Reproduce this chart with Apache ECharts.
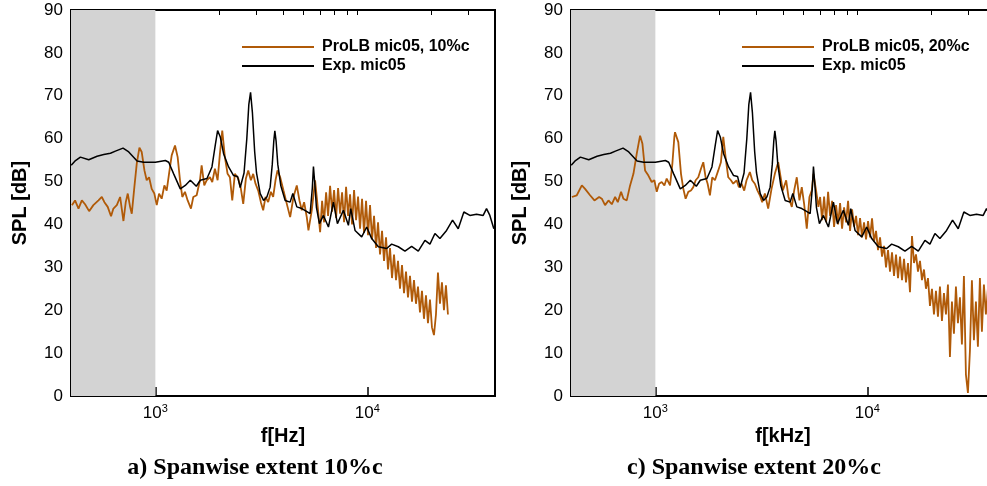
<!DOCTYPE html>
<html><head><meta charset="utf-8">
<script src="https://cdn.jsdelivr.net/npm/echarts@6/dist/echarts.min.js"></script>
<style>html,body{margin:0;padding:0;background:#fff;overflow:hidden;width:987px;height:486px}#c{width:1000px;height:486px}</style>
</head><body><div id="c"></div>
<script>
// ---- data (Hz, dB) ----
const expFreq = [401,420,443,485,531,571,614,648,704,749,820,881,1000,1115,1156,1220,1311,1384,1462,1560,1629,1751,1849,1917,1966,2024,2098,2215,2339,2442,2514,2620,2700,2760,2812,2870,2940,3000,3123,3238,3357,3479,3560,3620,3661,3710,3780,3907,4096,4323,4450,4648,4907,5142,5370,5500,5568,5650,5750,5942,6204,6553,6917,7224,7709,8138,8347,8747,9404,9929,10481,11268,12334,13020,13996,15044,16175,17386,18691,19731,20834,21990,23636,25227,26827,28524,30447,32729,35184,36481,37826,39502];
const expSpl  = [53.8,54.9,55.7,55.1,55.9,56.3,56.6,57.1,57.8,56.9,54.8,54.5,54.5,54.9,54.5,51.8,48.3,49.1,50.3,48.9,50.3,50.7,53.4,58.5,61.9,60.4,56.5,53.4,51.4,51.2,48.6,52.0,60.0,68.0,70.8,66.0,57.0,52.0,47.2,45.6,46.4,48.7,54.0,59.5,61.8,59.5,54.0,49.0,45.6,45.2,47.2,44.1,43.7,43.1,42.5,48.5,53.5,49.5,44.0,40.2,42.1,39.4,45.2,40.2,43.3,39.8,43.7,38.6,37.1,39.4,36.7,34.8,34.4,35.4,34.8,33.8,34.9,33.8,36.3,35.4,37.9,36.7,38.6,41.0,39.0,42.9,42.1,42.4,42.1,43.7,42.1,39.0];

// ProLB 10%c : low/mid range, then dense high-frequency band
const les10FreqLow = [404,418,434,450,466,487,510,539,559,575,596,618,634,658,682,694,707,725,741,760,774,796,817,841,862,888,910,934,961,989,1015,1041,1071,1103,1131,1160,1194,1238,1274,1307,1340,1379,1420,1472,1510,1566,1623,1653,1701,1745,1809,1855,1910,1966,2016,2068,2128,2191,2247,2305,2372,2460,2532,2597,2673,2742,2822,2894,2968,3056,3145,3225,3308,3405,3505,3595,3687,3768,3879,4021,4169,4323,4482,4646,4782,4905,5031,5179,5273,5467,5668,5876];
const les10SplLow  = [44.5,45.6,43.7,45.6,44.7,43.1,44.5,45.6,46.4,45.2,44.1,41.9,43.7,44.5,46.4,43.7,40.8,45.2,47.2,44.1,42.5,48.7,54.2,57.9,56.9,52.6,50.3,51.0,48.3,47.2,44.5,47.2,46.0,49.1,47.9,51.8,56.1,58.4,55.7,50.3,46.4,47.6,45.6,43.7,46.4,46.8,50.3,53.8,49.1,50.3,51.0,49.9,53.0,50.3,56.5,61.9,55.7,51.8,51.0,45.6,51.8,50.7,48.3,44.8,50.7,52.6,50.3,51.8,49.5,47.9,45.2,43.3,46.4,45.2,47.6,46.4,50.3,52.6,51.0,47.9,44.8,41.7,46.4,49.1,45.6,43.3,45.2,41.7,38.6,43.3,50.3,42.5];
const les10FreqHigh = [5986,6117,6251,6388,6528,6671,6818,6967,7120,7276,7436,7599,7765,7936,8110,8288,8469,8655,8845,9039,9237,9439,9646,9858,10074,10295,10521,10752,10988,11229,11475,11727,11984,12247,12515,12790,13070,13357,13650,13949,14255,14568,14887,15214,15547,15888,16237,16593,16957,17329,17709,18097,18494,18900,19314,19738,20171,20613,21065,21527,21999,22482,22975,23479,23994];
const les10SplHigh  = [38.2,45.5,40.5,47.5,42.0,49.0,43.0,48.0,41.5,48.5,42.5,47.5,40.5,48.8,42.0,47.0,40.0,48.0,41.0,46.5,39.0,46.0,38.0,45.5,37.5,44.5,36.5,42.0,34.5,40.5,33.0,38.5,31.5,37.0,29.5,34.5,27.5,33.0,27.0,31.5,25.0,30.5,24.0,29.0,23.0,28.0,22.0,27.0,21.5,25.5,19.5,24.5,18.0,23.5,17.0,22.5,16.0,14.2,19.0,28.8,21.5,26.5,20.0,25.8,19.0];

// ProLB 20%c
const les20FreqLow = [404,426,450,466,492,516,543,559,579,601,623,646,665,689,707,733,760,788,817,847,869,894,927,961,989,1015,1041,1071,1103,1131,1173,1203,1229,1238,1283,1321,1355,1389,1430,1472,1510,1549,1594,1641,1683,1726,1764,1809,1855,1910,1980,2038,2091,2144,2207,2272,2330,2416,2477,2550,2625,2692,2791,2863,2947,3033,3111,3191,3285,3405,3531,3661,3796,3993,4140,4245,4402,4514,4646,4782,4905,5031,5179,5330,5467,5568,5731,5876];
const les20SplLow  = [46.4,46.8,49.1,48.3,46.8,45.6,46.4,46.0,44.5,45.6,44.7,46.4,45.2,47.6,46.0,45.6,49.1,51.8,56.5,60.7,58.8,52.6,51.4,49.9,50.3,47.6,49.5,49.9,49.1,50.7,49.1,54.2,60.4,61.5,59.2,51.8,48.3,46.0,47.6,47.9,48.7,50.3,51.0,53.0,54.5,51.0,49.5,46.8,51.0,50.3,52.6,54.5,60.4,55.7,51.0,50.3,49.5,50.3,48.7,49.5,47.9,50.3,52.2,50.3,49.5,47.9,46.8,45.2,47.2,43.7,48.3,51.8,54.5,47.9,50.3,46.4,44.1,47.9,51.0,45.6,48.7,44.8,39.0,46.4,47.9,51.8,47.9,44.1];
const les20FreqHigh = [5986,6117,6251,6388,6528,6671,6818,6967,7120,7276,7436,7599,7765,7936,8110,8288,8469,8655,8845,9039,9237,9439,9646,9858,10074,10295,10521,10752,10988,11229,11475,11727,11984,12247,12515,12790,13070,13357,13650,13949,14255,14568,14887,15214,15547,15888,16237,16593,16957,17329,17709,18097,18494,18900,19314,19738,20171,20613,21065,21527,21999,22482,22975,23479,23994,24520,25057,25606,26168,26742,27329,27928,28541,29167,29807,30461,31129,31812,32510,33223,33952,34697,35458,36236,37031,37843];
const les20SplHigh  = [46.4,41.0,46.5,40.5,47.6,42.0,45.5,39.4,44.5,40.0,45.0,39.0,44.0,40.5,45.5,38.5,43.5,39.5,42.0,37.5,41.5,37.0,40.5,36.5,40.8,37.0,41.4,36.0,38.5,34.0,37.0,32.5,35.0,30.0,34.0,29.0,33.5,28.0,33.0,27.5,32.5,27.0,32.0,26.5,31.0,24.2,37.3,31.0,33.0,29.0,31.5,27.0,29.5,25.0,27.5,21.0,25.0,19.0,24.5,18.5,25.5,17.5,24.0,19.0,26.0,9.1,22.0,14.5,25.5,17.0,23.0,12.0,28.0,5.0,0.7,10.5,27.0,13.0,22.0,11.5,27.5,15.0,26.0,19.0,25.0,21.0];

const yTicks = [0,10,20,30,40,50,60,70,80,90];
const xMajor = [1000, 10000];
const xMinor = [500,600,700,800,900,2000,3000,4000,5000,6000,7000,8000,9000,20000,30000];
const lesLabels = ['ProLB mic05, 10%c', 'ProLB mic05, 20%c'];
const expLabel = 'Exp. mic05';
const xNames = ['f[Hz]', 'f[kHz]'];
const captions = ['a) Spanwise extent 10%c', 'c) Spanwise extent 20%c'];
const shadeRange = [400, 1000];

// ---- chart ----
const zip = (a, b) => a.map((v, i) => [v, b[i]]);
const SANS = '"Liberation Sans", Arial, sans-serif';
const SERIF = '"Liberation Serif", "Times New Roman", serif';
const ORANGE = '#B05A08';
const grids = [
  {left: 71, top: 10, width: 424, height: 386},
  {left: 571, top: 10, width: 424, height: 386}
];
const lesData = [
  zip(les10FreqLow, les10SplLow).concat(zip(les10FreqHigh, les10SplHigh)),
  zip(les20FreqLow, les20SplLow).concat(zip(les20FreqHigh, les20SplHigh))
];
const xAxes = [], yAxes = [], series = [], legends = [], graphics = [];
grids.forEach((g, i) => {
  g.show = true; g.borderColor = '#000'; g.borderWidth = 2; g.backgroundColor = 'transparent';
  xAxes.push({
    type: 'log', gridIndex: i, min: 400, max: 40000, logBase: 10,
    axisLine: {show: true, lineStyle: {color: '#000', width: 2}},
    axisTick: {inside: true, length: 9, customValues: xMajor, lineStyle: {color: '#000', width: 1.5}},
    axisLabel: {customValues: xMajor, margin: 7, color: '#000',
      formatter: v => '{b|10}{s|' + Math.round(Math.log10(v)) + '}',
      rich: {b: {fontSize: 17, fontFamily: SANS, color: '#000', lineHeight: 20},
             s: {fontSize: 11, fontFamily: SANS, color: '#000', verticalAlign: 'top', lineHeight: 12}}},
    splitLine: {show: false},
    name: xNames[i], nameLocation: 'middle', nameGap: 21,
    nameTextStyle: {fontFamily: SANS, fontWeight: 'bold', fontSize: 20, color: '#000'}
  });
  xAxes.push({
    type: 'log', gridIndex: i, min: 400, max: 40000, logBase: 10,
    axisLine: {show: false},
    axisTick: {inside: true, length: 5, customValues: xMinor, lineStyle: {color: '#000', width: 1}},
    axisLabel: {show: false}, splitLine: {show: false}
  });
  yAxes.push({
    type: 'value', gridIndex: i, min: 0, max: 90, interval: 10,
    axisLine: {show: true, lineStyle: {color: '#000', width: 2}},
    axisTick: {inside: true, length: 9, lineStyle: {color: '#000', width: 1.5}},
    minorTick: {show: true, splitNumber: 5, length: 5, lineStyle: {color: '#000', width: 1}},
    axisLabel: {fontSize: 17, fontFamily: SANS, color: '#000', margin: 8, customValues: yTicks},
    splitLine: {show: false},
    name: 'SPL [dB]', nameLocation: 'middle', nameRotate: 90, nameGap: 41,
    nameTextStyle: {fontFamily: SANS, fontWeight: 'bold', fontSize: 20, color: '#000'}
  });
  series.push({
    type: 'line', name: 'shade' + i, xAxisIndex: 2 * i, yAxisIndex: i, data: [], z: -1, silent: true,
    markArea: {silent: true, itemStyle: {color: '#d3d3d3'},
      data: [[{xAxis: shadeRange[0], yAxis: 0}, {xAxis: shadeRange[1], yAxis: 90}]]}
  });
  series.push({
    type: 'line', name: lesLabels[i], xAxisIndex: 2 * i, yAxisIndex: i,
    data: lesData[i], showSymbol: false, symbol: 'none', color: ORANGE,
    lineStyle: {color: ORANGE, width: 1.8}, z: 2
  });
  series.push({
    type: 'line', name: expLabel, xAxisIndex: 2 * i, yAxisIndex: i,
    data: zip(expFreq, expSpl), showSymbol: false, symbol: 'none', color: '#000',
    lineStyle: {color: '#000', width: 1.5}, z: 3
  });
  legends.push({
    orient: 'vertical', left: 237 + 500 * i, top: 34, data: [lesLabels[i], expLabel],
    icon: 'rect', itemWidth: 72, itemHeight: 2, itemGap: 3, selectedMode: false,
    textStyle: {fontFamily: SANS, fontWeight: 'bold', fontSize: 16, color: '#000', lineHeight: 16, padding: [0, 0, 0, 3]}
  });
  graphics.push({
    type: 'text', x: 255 + 499 * i, y: 468,
    style: {text: captions[i], font: 'bold 24px ' + SERIF, fill: '#000', align: 'center', verticalAlign: 'middle'}
  });
});

const chart = echarts.init(document.getElementById('c'), null, {renderer: 'canvas'});
chart.setOption({
  animation: false,
  backgroundColor: '#fff',
  grid: grids, xAxis: xAxes, yAxis: yAxes, series: series, legend: legends, graphic: graphics
});
</script>
</body></html>
